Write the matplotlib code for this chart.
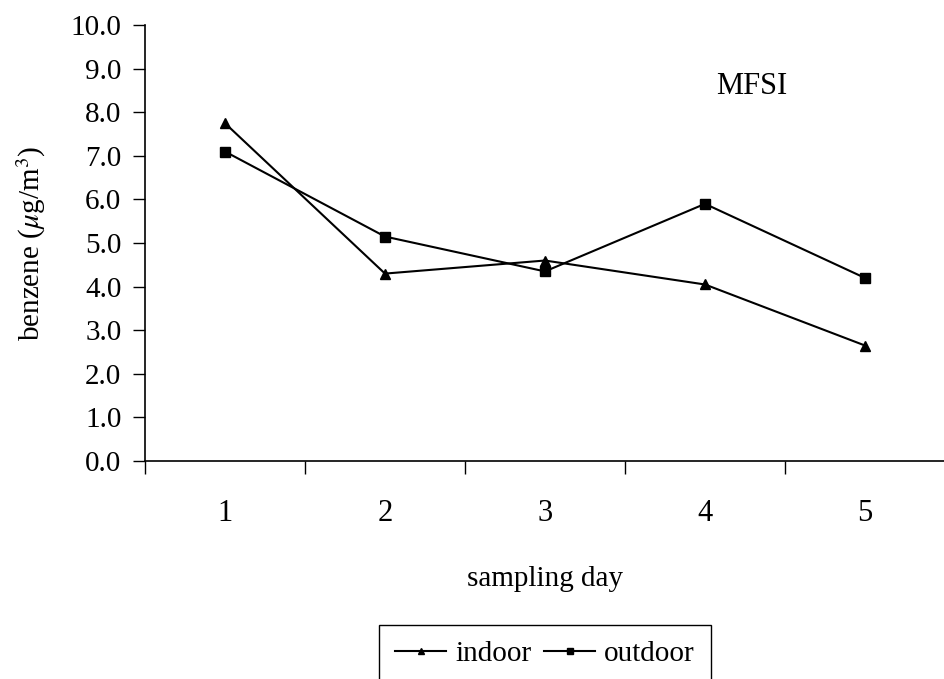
import matplotlib
matplotlib.use("Agg")
import matplotlib.pyplot as plt
import numpy as np

days = ["1", "2", "3", "4", "5"]
indoor = [7.75, 4.3, 4.6, 4.05, 2.65]
outdoor = [7.1, 5.15, 4.35, 5.9, 4.2]
yticks = [0, 1, 2, 3, 4, 5, 6, 7, 8, 9, 10]

plt.rcParams["font.family"] = ["Liberation Serif", "DejaVu Serif"]
plt.rcParams["mathtext.fontset"] = "stix"

fig = plt.figure(figsize=(9.45, 6.79), dpi=100)
ax = fig.add_axes([0.1534, 0.321, 0.8466, 0.642])

x = np.arange(len(days)) + 0.5
ax.plot(x, indoor, color="black", lw=1.5, marker="^", ms=7, label="indoor")
ax.plot(x, outdoor, color="black", lw=1.5, marker="s", ms=6.5, label="outdoor")

ax.set_xlim(0, len(days))
ax.set_ylim(0, 10)
ax.set_yticks(yticks)
ax.set_yticklabels([f"{v:.1f}" for v in yticks], fontsize=21)
ax.set_xticks(np.arange(len(days) + 1))
ax.set_xticklabels([])
ax.set_xticks(x, minor=True)
ax.set_xticklabels(days, minor=True, fontsize=22)
ax.tick_params(axis="x", which="minor", length=0, pad=27)
ax.tick_params(axis="x", which="major", direction="out", length=9, width=1)
ax.tick_params(axis="y", direction="out", length=9, width=1, pad=8)

for s in ["top", "right"]:
    ax.spines[s].set_visible(False)
ax.spines["left"].set_linewidth(1.2)
ax.spines["bottom"].set_linewidth(1.2)

ax.set_ylabel(r"benzene ($\mu$g/m$^3$)", fontsize=21, labelpad=16)
ax.set_xlabel("sampling day", fontsize=21, labelpad=28)
ax.text(3.57, 8.6, "MFSI", fontsize=22, va="center")

ax.legend(loc="upper center", bbox_to_anchor=(0.5, -0.376), ncol=2, fontsize=21,
          frameon=True, fancybox=False, edgecolor="black", framealpha=1,
          handlelength=1.75, handletextpad=0.3, columnspacing=0.45, borderpad=0.55,
          markerscale=0.7, borderaxespad=0)

fig.savefig("out.png", dpi=100)
